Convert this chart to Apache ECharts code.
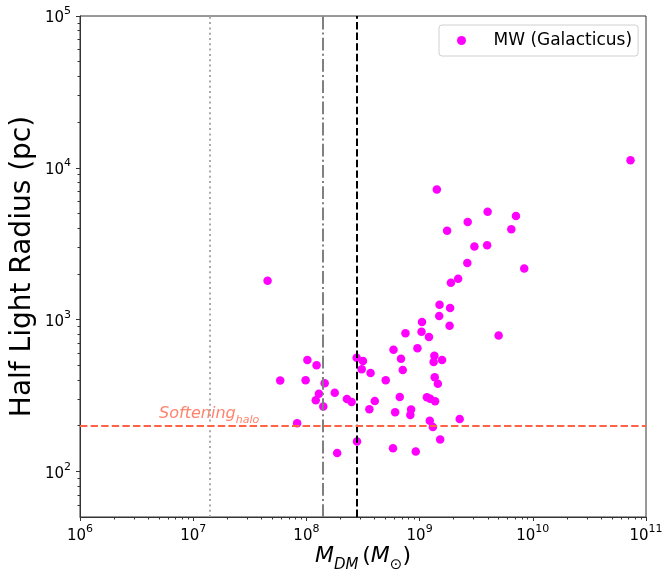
<!DOCTYPE html>
<html>
<head>
<meta charset="utf-8">
<script src="https://cdn.jsdelivr.net/npm/echarts@6/dist/echarts.min.js"></script>
<style>
  html, body { margin: 0; padding: 0; background: #fff; }
  #chart { width: 662px; height: 569px; }
</style>
</head>
<body>
<div id="chart"></div>
<script>
// halo dark matter mass (Msun) and half light radius (pc)
const massDM = [
  7.3e10, 1.42e9, 3.99e9, 7.1e9, 2.66e9, 6.46e9, 1.75e9, 3.95e9, 3.05e9, 2.64e9,
  8.4e9, 2.19e9, 1.89e9, 4.54e7, 1.50e9, 1.86e9, 1.49e9, 1.05e9, 1.84e9, 1.04e9,
  7.5e8, 1.21e9, 4.99e9, 5.88e8, 9.57e8, 1.35e9, 6.85e8, 1.58e9, 1.33e9, 2.78e8,
  3.16e8, 1.02e8, 1.23e8, 3.08e8, 7.1e8, 3.69e8, 1.36e9, 5.87e7, 9.84e7, 5.02e8,
  1.45e8, 1.45e9, 1.78e8, 1.29e8, 6.68e8, 1.16e9, 1.24e9, 1.21e8, 2.28e8, 2.51e8,
  4.02e8, 1.37e9, 1.41e8, 3.6e8, 8.41e8, 6.08e8, 8.28e8, 2.26e9, 1.23e9, 8.28e7,
  1.31e9, 2.8e8, 1.52e9, 5.82e8, 9.25e8, 1.87e8
];
const halfLightR = [
  11200, 7180, 5140, 4810, 4400, 3940, 3850, 3090, 3030, 2360,
  2170, 1860, 1745, 1800, 1250, 1190, 1057, 962, 910, 830,
  811, 767, 785, 632, 647, 577, 552, 542, 525, 561,
  533, 542, 500, 470, 465, 445, 417, 396, 398, 398,
  380, 377, 329, 324, 309, 308, 301, 294, 299, 286,
  291, 290, 267, 256, 255, 245, 235, 221, 215, 207,
  196, 157, 162, 142, 135, 132
];

// reference lines
const vLines = [1.4e7, 1.4e8, 2.8e8];
const softening = 200;
const softeningLabelX = 5e6;

// axes
const xRange = [1e6, 1e11];
const yRange = [50, 1e5];
const xTicks = [1e6, 1e7, 1e8, 1e9, 1e10, 1e11];
const yTicks = [1e2, 1e3, 1e4, 1e5];

// minor tick positions (2..9 x 10^n), as log10 values for a helper value axis
function minorTicksLog(lo, hi) {
  const out = [];
  for (let e = Math.floor(Math.log10(lo)); Math.pow(10, e) < hi; e++) {
    for (let m = 2; m <= 9; m++) {
      const v = m * Math.pow(10, e);
      if (v > lo && v < hi) out.push(Math.log10(v));
    }
  }
  return out;
}

const FONT = 'DejaVu Sans';
const pow10 = v => '{b|10}{s|' + Math.round(Math.log10(v)) + '}';
const labelRich = {
  b: { fontFamily: FONT, fontSize: 15, color: '#000', lineHeight: 20, verticalAlign: 'bottom' },
  s: { fontFamily: FONT, fontSize: 11, color: '#000', lineHeight: 11, verticalAlign: 'top' }
};

function mainAxis(kind, range, major) {
  return {
    type: 'log',
    logBase: 10,
    min: range[0],
    max: range[1],
    position: kind === 'x' ? 'bottom' : 'left',
    nameMoveOverlap: false,
    splitLine: { show: false },
    axisLine: { show: true, lineStyle: { color: '#333', width: 1 } },
    axisTick: { show: true, inside: false, length: 4, customValues: major, lineStyle: { color: '#333', width: 1 } },
    axisLabel: {
      show: true, customValues: major, formatter: pow10, rich: labelRich,
      margin: kind === 'x' ? 7 : 9, hideOverlap: false
    }
  };
}

function minorAxis(kind, range) {
  return {
    type: 'value',
    min: Math.log10(range[0]),
    max: Math.log10(range[1]),
    position: kind === 'x' ? 'bottom' : 'left',
    splitLine: { show: false },
    axisLine: { show: true, lineStyle: { color: 'rgba(0,0,0,0)' } },
    axisTick: {
      show: true, inside: false, length: 2.5,
      customValues: minorTicksLog(range[0], range[1]),
      lineStyle: { color: '#333', width: 1 }
    },
    axisLabel: { show: false }
  };
}

const xMain = mainAxis('x', xRange, xTicks);
xMain.name = '{i|M}{sub|DM} {n|(}{i|M}{sub|⊙}{n|)}';
xMain.nameLocation = 'middle';
xMain.nameGap = 28;
xMain.nameTextStyle = {
  rich: {
    i: { fontFamily: FONT, fontSize: 22, fontStyle: 'italic', color: '#000', lineHeight: 28, verticalAlign: 'top' },
    n: { fontFamily: FONT, fontSize: 22, color: '#000', lineHeight: 28, verticalAlign: 'top' },
    sub: { fontFamily: FONT, fontSize: 15, fontStyle: 'italic', color: '#000', lineHeight: 16, verticalAlign: 'bottom' }
  }
};
const yMain = mainAxis('y', yRange, yTicks);
yMain.name = 'Half Light Radius (pc)';
yMain.nameLocation = 'middle';
yMain.nameGap = 43;
yMain.nameTextStyle = { fontFamily: FONT, fontSize: 28, color: '#000' };

const chart = echarts.init(document.getElementById('chart'), null, { renderer: 'canvas' });

const option = {
  animation: false,
  backgroundColor: '#fff',
  textStyle: { fontFamily: FONT },
  grid: {
    left: 80, top: 16, right: 16, bottom: 52,
    show: true, borderColor: '#333', borderWidth: 1, backgroundColor: 'transparent',
    outerBoundsMode: 'none'
  },
  legend: {
    data: ['MW (Galacticus)'],
    left: 439, top: 25,
    padding: [7, 6, 7, 18],
    itemWidth: 30, itemHeight: 9,
    icon: 'circle',
    backgroundColor: '#fff',
    borderColor: '#d0d0d0', borderWidth: 1, borderRadius: 3,
    formatter: name => '{g|}' + name,
    textStyle: { fontFamily: FONT, fontSize: 17, color: '#000', rich: { g: { width: 12 } } }
  },
  xAxis: [xMain, minorAxis('x', xRange)],
  yAxis: [yMain, minorAxis('y', yRange)],
  series: [
    {
      type: 'line',
      data: [],
      z: 1,
      silent: true,
      markLine: {
        silent: true,
        symbol: ['none', 'none'],
        label: { show: false },
        animation: false,
        data: [
          { xAxis: vLines[0], lineStyle: { color: '#aaaaaa', width: 2, type: [2, 3.3] } },
          { xAxis: vLines[1], lineStyle: { color: '#808080', width: 2, type: [12.8, 3.2, 2, 3.2] } },
          { xAxis: vLines[2], lineStyle: { color: '#000000', width: 2, type: [7.4, 3.2] } },
          { yAxis: softening, lineStyle: { color: '#ff6347', width: 2, type: [7.4, 3.2] } }
        ]
      }
    },
    {
      type: 'scatter',
      silent: true,
      z: 2,
      symbolSize: 0,
      data: [[softeningLabelX, softening]],
      label: {
        show: true,
        position: [0, 0],
        align: 'left',
        verticalAlign: 'bottom',
        formatter: '{m|Softening}{s|halo}',
        rich: {
          m: { fontFamily: FONT, fontSize: 16, fontStyle: 'italic', color: '#ff6347', lineHeight: 20, verticalAlign: 'top' },
          s: { fontFamily: FONT, fontSize: 11, fontStyle: 'italic', color: '#ff6347', lineHeight: 12, verticalAlign: 'bottom' }
        }
      }
    },
    {
      name: 'MW (Galacticus)',
      type: 'scatter',
      z: 3,
      symbol: 'circle',
      symbolSize: 8.5,
      itemStyle: { color: '#ff00ff', opacity: 1 },
      data: massDM.map((m, i) => [m, halfLightR[i]])
    }
  ]
};

chart.setOption(option);
</script>
</body>
</html>
